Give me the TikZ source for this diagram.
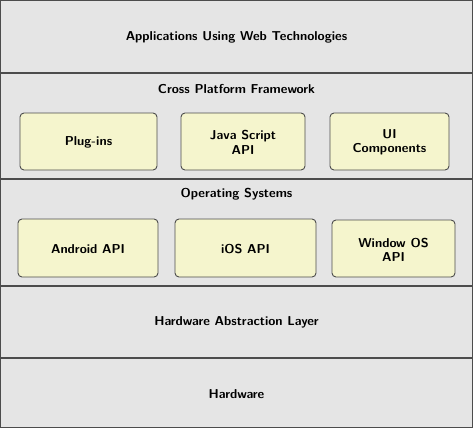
\documentclass[tikz,border=0pt]{standalone}
\usepackage{tikz}
\definecolor{layerfill}{gray}{0.9}
\definecolor{layerline}{gray}{0.3}
\definecolor{boxfill}{RGB}{245,245,205}

\begin{document}
\begin{tikzpicture}[x=1pt, y=-1pt,
    layer/.style={draw=layerline, fill=layerfill, line width=1pt},
    apibox/.style={draw=layerline, fill=boxfill, line width=0.9pt, rounded corners=4pt},
    lbl/.style={font=\fontsize{12.9}{14.5}\selectfont\sffamily\bfseries, align=center}]
	  \useasboundingbox (0,0) rectangle (473,428);

	  % Layers
	  \draw [layer] (0.5, 0.5) rectangle (472.5, 72);
	  \draw [layer] (0.5, 73.5) rectangle (472.5, 178);
	  \draw [layer] (0.5, 179.5) rectangle (472.5, 285);
	  \draw [layer] (0.5, 286.5) rectangle (472.5, 357);
	  \draw [layer] (0.5, 358.5) rectangle (472.5, 427.5);

	  % Layer labels
	  \node [lbl] (apps) at (236.5, 37) {Applications Using Web Technologies};
	  \node [lbl] (cross) at (236.5, 89.5) {Cross Platform Framework};
	  \node [lbl] (os) at (236.5, 194.5) {Operating Systems};
	  \node [lbl] (hal) at (236.5, 322.5) {Hardware Abstraction Layer};
	  \node [lbl] (hw) at (236.5, 394.5) {Hardware};

	  % Framework boxes
	  \draw [apibox] (20, 113) rectangle (157, 170);
	  \draw [apibox] (181, 113) rectangle (305, 170);
	  \draw [apibox] (330, 113) rectangle (449, 170);
	  \node [lbl] (plugins) at (88.5, 142.5) {Plug-ins};
	  \node [lbl] (jsapi) at (243, 142.5) {Java Script\\API};
	  \node [lbl] (ui) at (389.5, 142.5) {UI\\Components};

	  % OS boxes
	  \draw [apibox] (18, 219) rectangle (158, 277);
	  \draw [apibox] (175, 219) rectangle (316, 277);
	  \draw [apibox] (332, 220) rectangle (455, 277);
	  \node [lbl] (android) at (88, 249.5) {Android API};
	  \node [lbl] (ios) at (245.5, 249.5) {iOS API};
	  \node [lbl] (winos) at (393.5, 250) {Window OS\\API};
	 \end{tikzpicture}
\end{document}
